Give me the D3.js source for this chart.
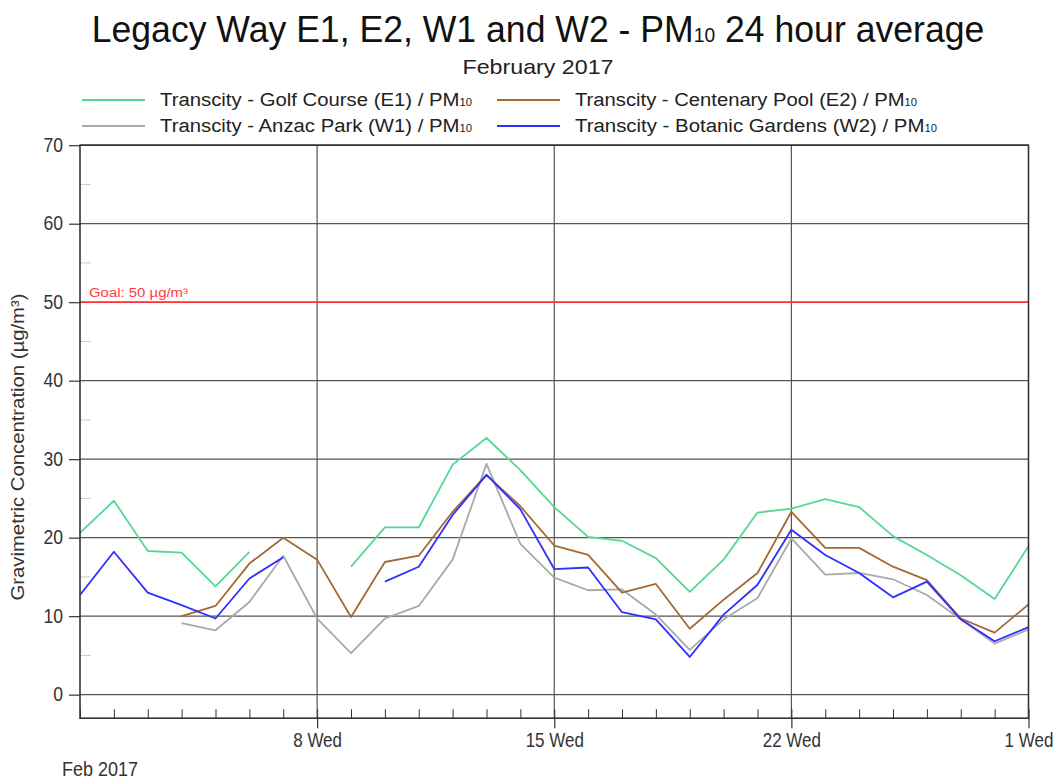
<!DOCTYPE html>
<html><head><meta charset="utf-8">
<script src="https://cdn.jsdelivr.net/npm/d3@7"></script>
<style>
body{margin:0;background:#fff;}
svg{display:block;font-family:"Liberation Sans",Arial,sans-serif;}
</style></head>
<body>
<svg id="chart" width="1059" height="780"></svg>
<script>
const startDate = "2017-02-01";
const days = 29;
const seriesNames = [
  "Transcity - Golf Course (E1) / PM",
  "Transcity - Centenary Pool (E2) / PM",
  "Transcity - Anzac Park (W1) / PM",
  "Transcity - Botanic Gardens (W2) / PM"
];
const e1Golf = [20.6,24.7,18.3,18.1,13.8,18.2,null,null,16.3,21.3,21.3,29.3,32.7,28.6,23.9,20.1,19.6,17.4,13.1,17.2,23.2,23.7,24.9,23.9,20.2,17.8,15.2,12.2,18.9];
const e2Centenary = [null,null,null,10.0,11.3,16.7,20.0,17.2,9.9,16.9,17.7,23.3,28.0,24.0,19.0,17.8,13.0,14.1,8.4,12.1,15.5,23.3,18.7,18.7,16.3,14.6,9.7,7.9,11.5];
const w1Anzac = [null,null,null,9.1,8.2,11.8,17.7,9.7,5.3,9.7,11.3,17.2,29.4,19.2,14.9,13.3,13.4,10.2,5.7,9.6,12.3,19.9,15.3,15.5,14.7,12.7,9.6,6.5,8.3];
const w2Botanic = [12.7,18.2,13.0,11.4,9.7,14.8,17.5,null,null,14.4,16.3,22.9,28.0,23.6,16.0,16.2,10.5,9.6,4.8,10.2,14.0,21.0,17.8,15.5,12.4,14.4,9.6,6.8,8.6];
const yTicks = [0,10,20,30,40,50,60,70];
const yMinor = [5,15,25,35,45,55,65];
const xLabelDates = ["2017-02-08","2017-02-15","2017-02-22","2017-03-01"];
const goalValue = 50;
const goalLabel = "Goal: 50 µg/m³";
const colors = ["#55d893","#a36a33","#a9a9a9","#2f2fff"];

const svg = d3.select("#chart");
const margin = {left:80, right:1059-1028.5, top:145.2, bottom:780-718.2};
const W = 1059, H = 780;
const parse = d3.utcParse("%Y-%m-%d");
const d0 = parse(startDate);
const dates = d3.range(days).map(i => d3.utcDay.offset(d0, i));
const x = d3.scaleUtc().domain([dates[0], dates[days-1]]).range([margin.left, W - margin.right]);
const y = d3.scaleLinear().domain([-3, 70]).range([H - margin.bottom, margin.top]);

function condense(sel, f) {
  sel.each(function(){
    const L = this.getComputedTextLength();
    d3.select(this).attr("textLength", L*f).attr("lengthAdjust","spacingAndGlyphs");
  });
}

// title (condensed by horizontal scaling)
const tg = svg.append("g");
const tt = tg.append("text").attr("x", 0).attr("y", 0).attr("text-anchor","middle")
  .attr("font-size", 37).attr("fill","#111")
  .html('Legacy Way E1, E2, W1 and W2 - PM<tspan font-size="20">10</tspan> 24 hour average');
const tw = tt.node().getComputedTextLength();
tg.attr("transform", `translate(538,42) scale(${893/tw},1)`);

svg.append("text").attr("x", 538).attr("y", 74).attr("text-anchor","middle")
  .attr("font-size", 21).attr("fill","#222").attr("textLength", 151).attr("lengthAdjust","spacingAndGlyphs")
  .text("February 2017");

// legend
const legendPos = [[82,100],[497,100],[82,126],[497,126]];
const legendLen = [312, 342, 312, 362];
[0,1,2,3].forEach((si, k) => {
  const [lx, ly] = legendPos[k];
  svg.append("line").attr("x1", lx).attr("x2", lx+63).attr("y1", ly).attr("y2", ly)
    .attr("stroke", colors[si]).attr("stroke-width", 2);
  svg.append("text").attr("x", lx+78).attr("y", ly+6).attr("font-size", 18).attr("fill","#222")
    .attr("textLength", legendLen[k]).attr("lengthAdjust","spacingAndGlyphs")
    .html(seriesNames[si] + '<tspan font-size="10">10</tspan>');
});

// grid horizontal
svg.append("g").selectAll("line").data(yTicks).join("line")
  .attr("x1", x.range()[0]).attr("x2", x.range()[1])
  .attr("y1", d => y(d)).attr("y2", d => y(d))
  .attr("stroke","#555").attr("stroke-width",1.2);
// grid vertical
svg.append("g").selectAll("line").data(xLabelDates.slice(0,3).map(parse)).join("line")
  .attr("x1", d => x(d)).attr("x2", d => x(d))
  .attr("y1", y.range()[1]).attr("y2", y.range()[0])
  .attr("stroke","#555").attr("stroke-width",1.2);
// minor y ticks
svg.append("g").selectAll("line").data(yMinor).join("line")
  .attr("x1", x.range()[0]).attr("x2", x.range()[0]+11)
  .attr("y1", d => y(d)).attr("y2", d => y(d))
  .attr("stroke","#ccc").attr("stroke-width",1);

// goal line
svg.append("line").attr("x1", x.range()[0]).attr("x2", x.range()[1])
  .attr("y1", y(goalValue)).attr("y2", y(goalValue)).attr("stroke","#ff3333").attr("stroke-width",1.6);
svg.append("text").attr("x", 89).attr("y", y(goalValue)-5).attr("font-size", 12.5).attr("fill","#ff3b3b")
  .attr("textLength", 99).attr("lengthAdjust","spacingAndGlyphs")
  .text(goalLabel);

// series
const seriesData = [e1Golf, e2Centenary, w1Anzac, w2Botanic];
const line = d3.line().defined(d => d.v != null).x(d => x(d.date)).y(d => y(d.v));
[0,2,1,3].forEach(si => {
  const pts = dates.map((dt,i) => ({date: dt, v: seriesData[si][i]}));
  svg.append("path").datum(pts).attr("d", line).attr("fill","none")
    .attr("stroke", colors[si]).attr("stroke-width", 1.8).attr("stroke-linejoin","round");
});

// frame
svg.append("rect").attr("x", x.range()[0]).attr("y", y.range()[1])
  .attr("width", x.range()[1]-x.range()[0]).attr("height", y.range()[0]-y.range()[1])
  .attr("fill","none").attr("stroke","#333").attr("stroke-width",1.6);

// y axis
const yAxis = d3.axisLeft(y).tickValues(yTicks).tickSize(11).tickPadding(6).tickFormat(d3.format("d"));
const gy = svg.append("g").attr("transform", `translate(${x.range()[0]},0)`).call(yAxis);
gy.select(".domain").remove();
gy.selectAll(".tick line").attr("stroke","#333").attr("stroke-width",1.2);
gy.selectAll(".tick text").attr("font-size", 19.5).attr("fill","#333").attr("font-family","Liberation Sans, Arial, sans-serif");
condense(gy.selectAll(".tick text"), 0.9);

// x axis minor ticks (inward)
const xMinor = d3.axisBottom(x).tickValues(dates).tickSize(-9).tickFormat("");
const gxm = svg.append("g").attr("transform", `translate(0,${y.range()[0]})`).call(xMinor);
gxm.select(".domain").remove();
gxm.selectAll(".tick line").attr("stroke","#333");
// x axis major
const fmt = d3.utcFormat("%-d %a");
const xMajor = d3.axisBottom(x).tickValues(xLabelDates.map(parse)).tickSize(10).tickPadding(5).tickFormat(d => fmt(d));
const gx = svg.append("g").attr("transform", `translate(0,${y.range()[0]})`).call(xMajor);
gx.select(".domain").remove();
gx.selectAll(".tick line").attr("stroke","#333").attr("stroke-width",1.2);
gx.selectAll(".tick text").attr("font-size", 20).attr("fill","#333").attr("font-family","Liberation Sans, Arial, sans-serif")
  .attr("transform","scale(0.85,1)");
const febLbl = svg.append("text").attr("x", 0).attr("y", 0).attr("font-size", 20).attr("fill","#333")
  .attr("transform","translate(62,776) scale(0.9,1)")
  .text(d3.utcFormat("%b %Y")(dates[0]));

// y axis title
svg.append("text").attr("transform", `translate(24,447) rotate(-90)`)
  .attr("text-anchor","middle").attr("font-size", 17.5).attr("fill","#333")
  .attr("textLength", 307).attr("lengthAdjust","spacingAndGlyphs")
  .text("Gravimetric Concentration (µg/m³)");
</script>
</body></html>
